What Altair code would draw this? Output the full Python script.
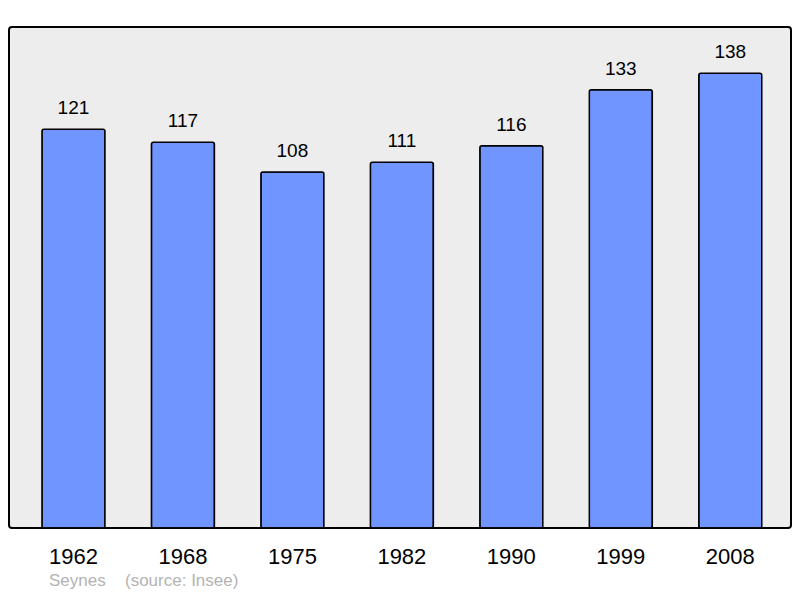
import altair as alt
import pandas as pd

years = ["1962", "1968", "1975", "1982", "1990", "1999", "2008"]
population = [121, 117, 108, 111, 116, 133, 138]
footer_place = "Seynes"
footer_source = "(source: Insee)"

df = pd.DataFrame({"year": years, "pop": population})

FONT = "Liberation Sans"

x = alt.X("year:N", sort=years, title=None,
          scale=alt.Scale(paddingInner=0.4245, paddingOuter=0.284, align=0.53),
          axis=alt.Axis(domain=False, ticks=False, tickSize=0, grid=False,
                        labelAngle=0, labelFontSize=22, labelFont=FONT,
                        labelColor="#000000", labelPadding=35,
                        labelBaseline="alphabetic"))
y = alt.Y("pop:Q", title=None, scale=alt.Scale(domain=[0, 152], nice=False),
          axis=None)

base = alt.Chart(df)

bars = base.mark_bar(fill="#7095ff", stroke="#000000", strokeWidth=1.5,
                     cornerRadius=2).encode(x=x, y=y)

labels = base.mark_text(font=FONT, fontSize=19, baseline="alphabetic",
                        dy=-15, color="#000000").encode(
    x=alt.X("year:N", sort=years), y="pop:Q", text="pop:Q")

foot1 = alt.Chart(pd.DataFrame({"t": [footer_place]})).mark_text(
    font=FONT, fontSize=17, color="#b3b3b3", align="left",
    baseline="alphabetic").encode(text="t:N", x=alt.value(40), y=alt.value(559))
foot2 = alt.Chart(pd.DataFrame({"t": [footer_source]})).mark_text(
    font=FONT, fontSize=17, color="#b3b3b3", align="left",
    baseline="alphabetic").encode(text="t:N", x=alt.value(116), y=alt.value(559))

chart = alt.layer(bars, labels, foot1, foot2).properties(
    width=782, height=501,
    autosize=alt.AutoSizeParams(type="none"),
    padding={"left": 1, "top": 19, "right": 1, "bottom": 62},
).configure_view(
    fill="#ededed", stroke="#000000", strokeWidth=2, cornerRadius=3
)

chart.save("out.html", embed_options={"renderer": "svg", "actions": False})
